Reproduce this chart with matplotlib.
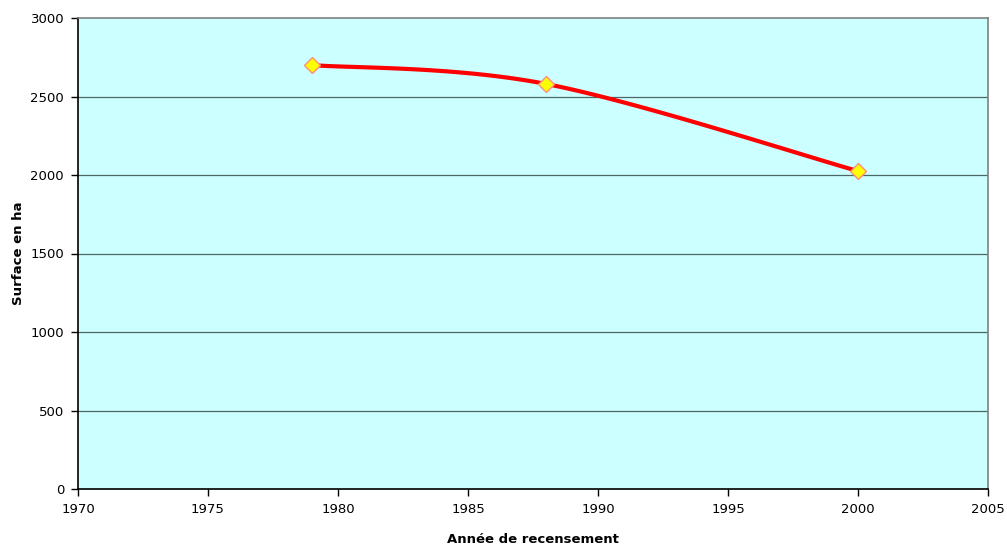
import numpy as np
import matplotlib
matplotlib.use('Agg')
import matplotlib.pyplot as plt

# census years and surface (ha)
years = [1979, 1988, 2000]
surface = [2700, 2580, 2025]

x_ticks = [1970, 1975, 1980, 1985, 1990, 1995, 2000, 2005]
y_ticks = [0, 500, 1000, 1500, 2000, 2500, 3000]


def smooth_curve(xs, ys, n=60):
    # excel-like smoothed line: cubic bezier with catmull-rom style controls
    xs = np.asarray(xs, float)
    ys = np.asarray(ys, float)
    px = np.concatenate([[xs[0]], xs, [xs[-1]]])
    py = np.concatenate([[ys[0]], ys, [ys[-1]]])
    out_x, out_y = [], []
    t = np.linspace(0, 1, n)
    for i in range(1, len(px) - 2):
        p0 = np.array([px[i], py[i]])
        p3 = np.array([px[i + 1], py[i + 1]])
        c1 = p0 + (np.array([px[i + 1], py[i + 1]]) - np.array([px[i - 1], py[i - 1]])) / 6.0
        c2 = p3 - (np.array([px[i + 2], py[i + 2]]) - np.array([px[i], py[i]])) / 6.0
        b = ((1 - t) ** 3)[:, None] * p0 + (3 * (1 - t) ** 2 * t)[:, None] * c1 \
            + (3 * (1 - t) * t ** 2)[:, None] * c2 + (t ** 3)[:, None] * p3
        out_x.extend(b[:, 0])
        out_y.extend(b[:, 1])
    return out_x, out_y


plt.rcParams['font.family'] = ['DejaVu Sans']

fig = plt.figure(figsize=(10.07, 5.47), dpi=100)
ax = fig.add_axes([78 / 1007, 1 - 489 / 547, 910 / 1007, 471 / 547])
ax.set_facecolor('#CCFFFF')

for v in y_ticks[1:-1]:
    ax.axhline(v, color='#4d6666', lw=0.9, zorder=1)

sx, sy = smooth_curve(years, surface)
ax.plot(sx, sy, color='#FF0000', lw=3, zorder=2, solid_capstyle='round')
ax.plot(years, surface, ls='none', marker='D', ms=8.5, mfc='#FFFF00',
        mec='#FF8C80', mew=1, zorder=3)

ax.set_xlim(1970, 2005)
ax.set_ylim(0, 3000)
ax.set_xticks(x_ticks)
ax.set_yticks(y_ticks)
ax.tick_params(direction='out', length=5, width=1, labelsize=9.5, color='black', pad=5)

ax.spines['left'].set_color('black')
ax.spines['bottom'].set_color('black')
ax.spines['top'].set_color('#808080')
ax.spines['right'].set_color('#808080')
for s in ax.spines.values():
    s.set_linewidth(1.2)

ax.set_xlabel('Année de recensement', fontsize=9.5, fontweight='bold', labelpad=12)
ax.set_ylabel('Surface en ha', fontsize=9.5, fontweight='bold', labelpad=4)

fig.savefig('out.png', dpi=100)
